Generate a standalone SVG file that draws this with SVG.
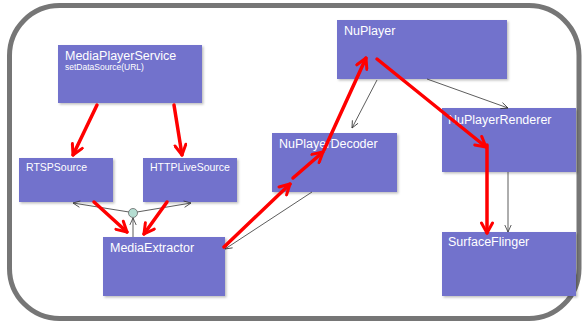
<svg xmlns="http://www.w3.org/2000/svg" width="583" height="325" viewBox="0 0 583 325">
  <style>
    .box { fill: #7272cc; filter: url(#shadow); }
    .lbl { fill: #ffffff; font-family: "Liberation Sans", Arial, sans-serif; font-size: 12.5px; }
    .small { font-size: 8.5px; }
    .mid { font-size: 10.5px; }
    .red { stroke: #ff0000; stroke-width: 3.5; fill: none; stroke-linecap: round; }
    .thin { stroke: #333333; stroke-width: 0.8; fill: none; }
  </style>
  <defs>
    <filter id="shadow" x="-10%" y="-10%" width="125%" height="130%">
      <feDropShadow dx="1.5" dy="1.5" stdDeviation="1.2" flood-color="#000000" flood-opacity="0.25"/>
    </filter>
    <marker id="redHead" viewBox="0 0 14 14" markerWidth="14" markerHeight="14" refX="12" refY="7" orient="auto" markerUnits="userSpaceOnUse">
      <path d="M2,1.5 L12,7 L2,12.5" stroke="#ff0000" stroke-width="3" fill="none" stroke-linecap="round" stroke-linejoin="round"/>
    </marker>
    <marker id="thinHead" viewBox="0 0 8 8" markerWidth="8" markerHeight="8" refX="7.5" refY="4" orient="auto" markerUnits="userSpaceOnUse">
      <path d="M0.5,0.8 L7.5,4 L0.5,7.2" stroke="#333333" stroke-width="0.8" fill="none"/>
    </marker>
  </defs>

  <rect width="583" height="325" fill="#ffffff"/>
  <!-- outer frame -->
  <rect x="9.5" y="5.5" width="569.5" height="313" rx="50" ry="50" fill="none" stroke="#767676" stroke-width="5"/>

  <g id="MediaPlayerService">
    <rect class="box" x="58" y="45" width="144" height="58"/>
    <text class="lbl" x="65" y="60">MediaPlayerService</text>
    <text class="lbl small" x="65" y="70">setDataSource(URL)</text>
  </g>
  <g id="RTSPSource">
    <rect class="box" x="19" y="158" width="94" height="44"/>
    <text class="lbl mid" x="26" y="171">RTSPSource</text>
  </g>
  <g id="HTTPLiveSource">
    <rect class="box" x="143" y="158" width="94" height="44"/>
    <text class="lbl mid" x="150" y="171">HTTPLiveSource</text>
  </g>
  <g id="MediaExtractor">
    <rect class="box" x="103" y="237" width="122" height="59"/>
    <text class="lbl" x="110" y="252">MediaExtractor</text>
  </g>
  <g id="NuPlayer">
    <rect class="box" x="337" y="20" width="170" height="59"/>
    <text class="lbl" x="344" y="35">NuPlayer</text>
  </g>
  <g id="NuPlayerDecoder">
    <rect class="box" x="272" y="133" width="125" height="59"/>
    <text class="lbl" x="279" y="148">NuPlayerDecoder</text>
  </g>
  <g id="NuPlayerRenderer">
    <rect class="box" x="442" y="108" width="134" height="64"/>
    <text class="lbl" x="448" y="124">NuPlayerRenderer</text>
  </g>
  <g id="SurfaceFlinger">
    <rect class="box" x="442" y="232" width="134" height="64"/>
    <text class="lbl" x="448" y="246">SurfaceFlinger</text>
  </g>

  <g id="connectors">
    <!-- thin structural links -->
    <line class="thin" x1="377" y1="80" x2="352" y2="128" marker-end="url(#thinHead)"/>
    <line class="thin" x1="427" y1="79" x2="508" y2="108" marker-end="url(#thinHead)"/>
    <line class="thin" x1="508" y1="172" x2="508" y2="232" marker-end="url(#thinHead)"/>
    <line class="thin" x1="312" y1="192" x2="225" y2="249" marker-end="url(#thinHead)"/>
    <line class="thin" x1="129" y1="212" x2="73" y2="203" marker-end="url(#thinHead)"/>
    <line class="thin" x1="137" y1="212" x2="191" y2="203" marker-end="url(#thinHead)"/>
    <line class="thin" x1="133" y1="237" x2="133" y2="218" marker-end="url(#thinHead)" stroke="#666666"/>
    <circle cx="133" cy="213" r="4.5" fill="#b5ddd2" stroke="#666666" stroke-width="0.8"/>

    <!-- red data path -->
    <line class="red" x1="97" y1="105" x2="73" y2="155" marker-end="url(#redHead)"/>
    <line class="red" x1="174" y1="105" x2="182" y2="155" marker-end="url(#redHead)"/>
    <line class="red" x1="94" y1="202" x2="127" y2="232" marker-end="url(#redHead)"/>
    <line class="red" x1="167" y1="202" x2="144" y2="234" marker-end="url(#redHead)"/>
    <line class="red" x1="224" y1="247" x2="290" y2="184" marker-end="url(#redHead)"/>
    <line class="red" x1="293" y1="178" x2="323" y2="152" marker-end="url(#redHead)"/>
    <line class="red" x1="324" y1="150" x2="366" y2="58" marker-end="url(#redHead)"/>
    <line class="red" x1="377" y1="59" x2="486" y2="147" marker-end="url(#redHead)"/>
    <line class="red" x1="487" y1="145" x2="487" y2="233" marker-end="url(#redHead)"/>
  </g>
</svg>
